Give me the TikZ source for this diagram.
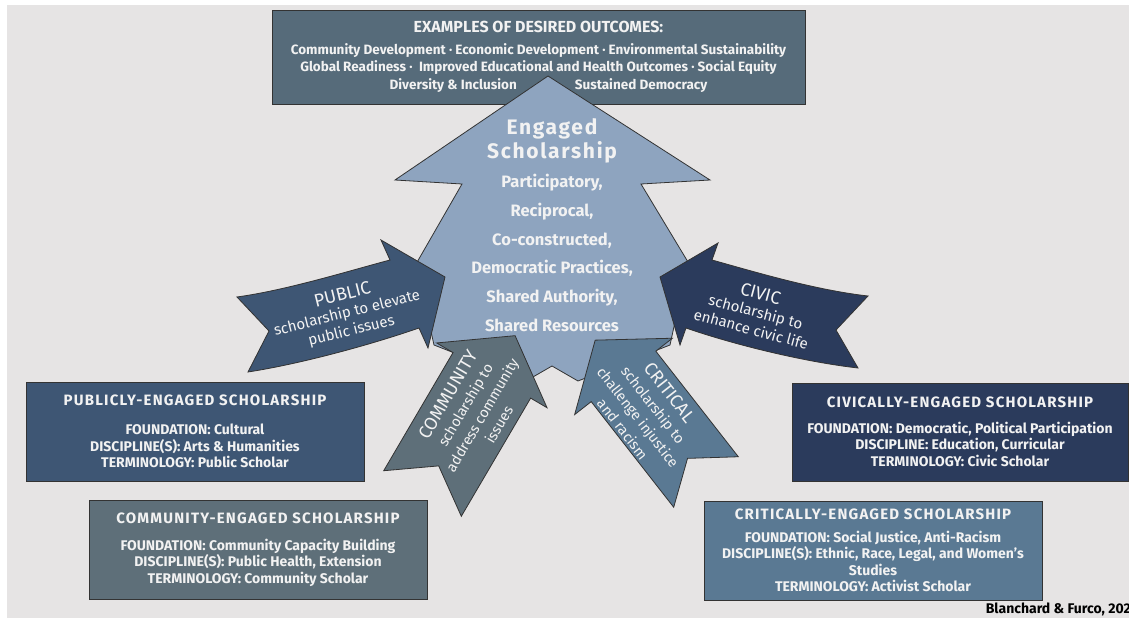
\documentclass[tikz,border=0pt]{standalone}
\usepackage{fontspec}
\setmainfont{Fira Sans}
\newfontfamily\spacedfont[LetterSpace=8]{Fira Sans}
\usetikzlibrary{
    positioning % for placing the practice list under the heading
}

\definecolor{paper}{HTML}{E6E4E4}
\definecolor{outcomeslate}{HTML}{566B7A}
\definecolor{engagedblue}{HTML}{8EA4BF}
\definecolor{publicblue}{HTML}{3E5674}
\definecolor{civicnavy}{HTML}{2B3B5C}
\definecolor{communityslate}{HTML}{5E6F79}
\definecolor{criticalblue}{HTML}{5A7993}

\newcommand{\boxtitle}[1]{{\spacedfont\bfseries\fontsize{15}{17}\selectfont #1}}
\newcommand{\arrowtitle}[1]{{\fontsize{18}{20}\selectfont #1}}

\begin{document}
\begin{tikzpicture}[
        x=1pt, y=-1pt,
        every node/.style  = {text=white!95!black},
        outline/.style     = {draw=black!80, line width=0.8pt},
        scholar box/.style = {outline, minimum width=338pt, minimum height=99pt, inner sep=0pt, align=center,
                              font=\bfseries\fontsize{14}{16.5}\selectfont},
        arrow text/.style  = {align=center, inner sep=0pt, font=\fontsize{15}{18}\selectfont},
        wide lines/.style  = {font=\fontsize{14.5}{19.5}\selectfont}
    ]

    % page and grey panel
    \fill[white] (0,0) rectangle (1129,620);
    \fill[paper] (7,5) rectangle (1129,618);
    \useasboundingbox (0,0) rectangle (1129,620);

    % outcomes on top
    \node [outline, fill=outcomeslate, minimum width=533pt, minimum height=94pt, inner sep=0pt, align=center,
           font=\bfseries\fontsize{13.5}{17.5}\selectfont] (out) at (538.5,57)
        {{\fontsize{16}{17}\selectfont EXAMPLES OF DESIRED OUTCOMES:}\\[4pt]
         Community Development · Economic Development · Environmental Sustainability\\
         Global Readiness ·\ \ Improved Educational and Health Outcomes · Social Equity\\
         \hspace*{20pt}Diversity \& Inclusion\hspace{58pt}Sustained Democracy};

    % the big arrow
    \draw[outline, fill=engagedblue] (548,76) -- (710,180) -- (641,184) -- (688,262) -- (670,345)
        -- (578,381) -- (552,366) -- (526,381) -- (434,345) -- (416,264) -- (462,184) -- (395,180) -- cycle;
    \node [align=center, font=\spacedfont\bfseries\fontsize{21}{24}\selectfont] (es) at (552,141) {Engaged\\Scholarship};
    \node [align=center, font=\bfseries\fontsize{16.5}{28.8}\selectfont, on grid, below=112pt of es] (ep)
        {Participatory,\\Reciprocal,\\Co-constructed,\\Democratic Practices,\\Shared Authority,\\Shared Resources};

    % public and civic arrows
    \draw[outline, fill=publicblue] (237,297) .. controls (287,290) and (345,272) .. (390,260) -- (381,240) -- (445,277)
        -- (428,348) -- (419,328) .. controls (370,345) and (300,364) .. (248,372) -- (269,331) -- cycle;
    \node [arrow text, rotate=14] (pub) at (347,313) {\arrowtitle{PUBLIC}\\scholarship to elevate\\public issues};

    \draw[outline, fill=civicnavy] (660,277) -- (718,243) -- (712,260) .. controls (755,272) and (815,290) .. (868,296)
        -- (836,330) -- (858,368) .. controls (805,362) and (735,345) .. (686,328) -- (680,345) -- cycle;
    \node [arrow text, rotate=-15] (civ) at (756,311) {\arrowtitle{CIVIC}\\scholarship to\\enhance civic life};

    % community and critical arrows
    \begin{scope}[shift={(422.5,493.5)}, rotate=59.6, y=1pt]
        \draw[outline, fill=communityslate] (0,45) -- (137,45) -- (137,64) -- (183,0) -- (137,-64) -- (137,-45) -- (0,-45) -- (32,0) -- cycle;
        \node [arrow text, wide lines, transform shape] (com) at (98,-1) {\arrowtitle{COMMUNITY}\\scholarship to\\address community\\issues};
    \end{scope}
    \begin{scope}[shift={(706,482)}, rotate=128, y=1pt]
        \draw[outline, fill=criticalblue] (0,41) -- (134,41) -- (134,62) -- (180,0) -- (134,-62) -- (134,-41) -- (0,-41) -- (30,0) -- cycle;
        \node [arrow text, wide lines, transform shape, rotate=180] (cri) at (93,3) {\arrowtitle{CRITICAL}\\scholarship to\\challenge injustice\\and racism};
    \end{scope}

    % the four kinds
    \node [scholar box, fill=publicblue] (pubbox) at (195,431.5)
        {\boxtitle{PUBLICLY-ENGAGED SCHOLARSHIP}\\[13pt]
         FOUNDATION: Cultural\\DISCIPLINE(S): Arts \& Humanities\\TERMINOLOGY: Public Scholar};
    \node [scholar box, fill=communityslate] (combox) at (258,549.5)
        {\boxtitle{COMMUNITY-ENGAGED SCHOLARSHIP}\\[10pt]
         FOUNDATION: Community Capacity Building\\DISCIPLINE(S): Public Health, Extension\\TERMINOLOGY: Community Scholar};
    \node [scholar box, fill=civicnavy, minimum width=336pt, minimum height=98pt] (civbox) at (960,432)
        {\boxtitle{CIVICALLY-ENGAGED SCHOLARSHIP}\\[9pt]
         FOUNDATION: Democratic, Political Participation\\DISCIPLINE: Education, Curricular\\TERMINOLOGY: Civic Scholar};
    \node [scholar box, fill=criticalblue] (cribox) at (873,550.5)
        {\boxtitle{CRITICALLY-ENGAGED SCHOLARSHIP}\\[6pt]
         FOUNDATION: Social Justice, Anti-Racism\\DISCIPLINE(S): Ethnic, Race, Legal, and Women's\\Studies\\TERMINOLOGY: Activist Scholar};

    \node [anchor=east, inner sep=0pt, text=black, font=\bfseries\fontsize{14}{16}\selectfont] (src) at (1131,609) {Blanchard \& Furco, 202};

\end{tikzpicture}
\end{document}
